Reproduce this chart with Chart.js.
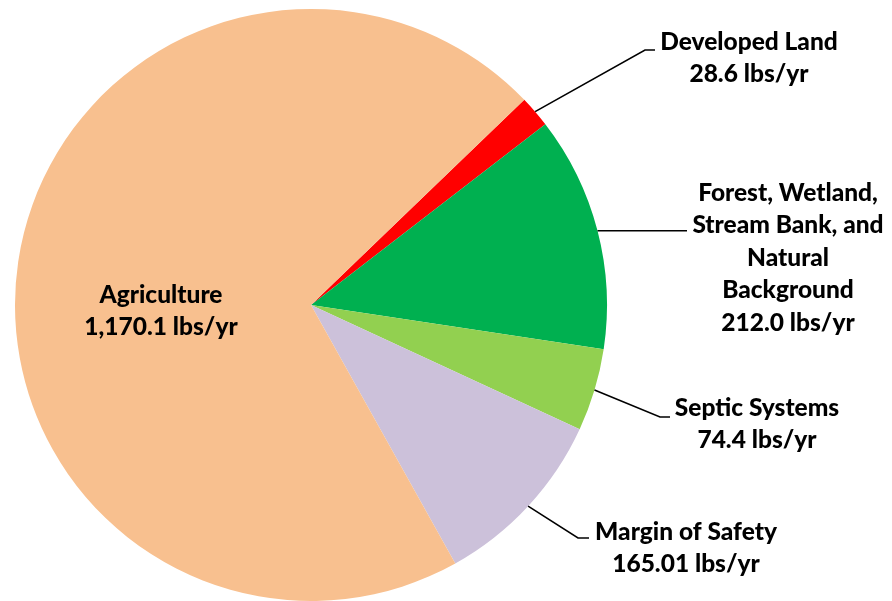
<!DOCTYPE html>
<html>
<head>
<meta charset="utf-8">
<script src="https://cdn.jsdelivr.net/npm/chart.js@4.4.0/dist/chart.umd.min.js"></script>
<style>
  html, body { margin: 0; padding: 0; background: #fff; }
  #wrap { width: 892px; height: 601px; position: relative; }
</style>
</head>
<body>
<div id="wrap"><canvas id="pie"></canvas></div>
<script>
const categories = ['Developed Land', 'Forest, Wetland, Stream Bank, and Natural Background', 'Septic Systems', 'Margin of Safety', 'Agriculture'];
const loads = [28.6, 212.0, 74.4, 165.01, 1170.1];
const valueLabels = ['28.6 lbs/yr', '212.0 lbs/yr', '74.4 lbs/yr', '165.01 lbs/yr', '1,170.1 lbs/yr'];
const colors = ['#FF0000', '#00B050', '#92D050', '#CCC1DA', '#F8C08F'];

// label text lines, centre x, first line y, optional leader elbow
const labelLayout = [
  { lines: ['Developed Land'], x: 749, y: 42, elbow: [645, 50], end: 655 },
  { lines: ['Forest, Wetland,', 'Stream Bank, and', 'Natural', 'Background'], x: 788, y: 193, elbow: null, end: 687 },
  { lines: ['Septic Systems'], x: 757, y: 408, elbow: [660, 417], end: 670 },
  { lines: ['Margin of Safety'], x: 686, y: 532, elbow: [578, 538], end: 589 },
  { lines: ['Agriculture'], x: 161, y: 295 }
];

const labelPlugin = {
  id: 'labels',
  afterDatasetsDraw(chart) {
    const ctx = chart.ctx;
    const meta = chart.getDatasetMeta(0);
    ctx.save();
    ctx.font = '900 24.5px Lato';
    ctx.fillStyle = '#000';
    ctx.textAlign = 'center';
    ctx.textBaseline = 'middle';
    ctx.strokeStyle = '#000';
    ctx.lineWidth = 1.6;
    meta.data.forEach((arc, i) => {
      const L = labelLayout[i];
      const lines = L.lines.concat([valueLabels[i]]);
      lines.forEach((t, k) => ctx.fillText(t, L.x, L.y + k * 32.5));
      if (L.end) {
        const mid = (arc.startAngle + arc.endAngle) / 2;
        const sx = arc.x + Math.cos(mid) * arc.outerRadius;
        const sy = arc.y + Math.sin(mid) * arc.outerRadius;
        ctx.beginPath();
        ctx.moveTo(sx, sy);
        if (L.elbow) {
          ctx.lineTo(L.elbow[0], L.elbow[1]);
          ctx.lineTo(L.end, L.elbow[1]);
        } else {
          ctx.lineTo(L.end, sy);
        }
        ctx.stroke();
      }
    });
    ctx.restore();
  }
};

new Chart(document.getElementById('pie'), {
  type: 'pie',
  data: {
    labels: categories,
    datasets: [{ data: loads, backgroundColor: colors, borderWidth: 0 }]
  },
  options: {
    responsive: true,
    maintainAspectRatio: false,
    animation: false,
    rotation: 46.1,
    layout: { padding: { left: 14, right: 284, top: 9, bottom: 0 } },
    plugins: { legend: { display: false }, tooltip: { enabled: false } }
  },
  plugins: [labelPlugin]
});
</script>
</body>
</html>
